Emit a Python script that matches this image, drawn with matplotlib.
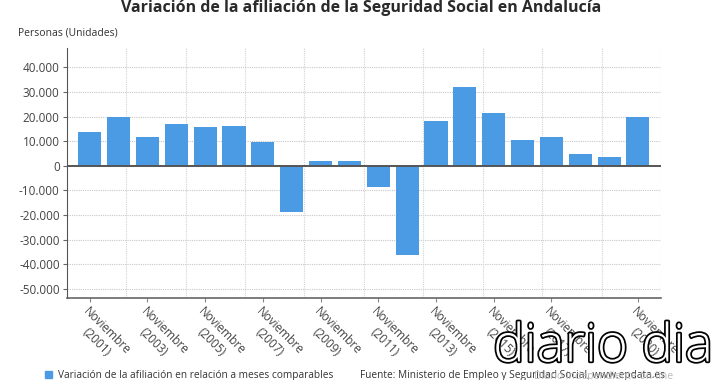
"""
Variación de la afiliación de la Seguridad Social en Andalucía (noviembre, 2001-2020).
"""

import matplotlib
matplotlib.use("Agg")
import matplotlib.pyplot as plt
import matplotlib.patheffects as pe
from matplotlib.patches import Patch
import numpy as np

# --------------------------------------------------
# DATA
# --------------------------------------------------
years = list(range(2001, 2021))
variacion = [13600, 19800, 11500, 17000, 15600, 16200, 9600, -18900, 2000, 1900,
             -8800, -36300, 18200, 32100, 21300, 10400, 11600, 4900, 3500, 19800]
label_years = [2001, 2003, 2005, 2007, 2009, 2011, 2013, 2015, 2017, 2020]
y_ticks = [40000, 30000, 20000, 10000, 0, -10000, -20000, -30000, -40000, -50000]

TITLE = "Variación de la afiliación de la Seguridad Social en Andalucía"
Y_UNIT = "Personas (Unidades)"
SERIES = "Variación de la afiliación en relación a meses comparables"
SOURCE = "Fuente: Ministerio de Empleo y Seguridad Social, www.epdata.es"
LOGO = "diario dia"
LOGO_SUB = "Diario independiente on-line"

BAR_COLOR = "#4a9be3"
TEXT_COLOR = "#444444"

plt.rcParams["font.family"] = ["Open Sans", "DejaVu Sans"]


def fmt(v):
    return f"{v:,.0f}".replace(",", ".")


fig = plt.figure(figsize=(7.2, 3.8), dpi=100)
ax = fig.add_axes([0.0926, 0.215, 0.8255, 0.661])

x = np.arange(len(years))
ax.bar(x, variacion, width=0.8, color=BAR_COLOR, zorder=3)

ax.set_xlim(-0.8, len(years) - 0.2)
ax.set_ylim(-53800, 48200)

# horizontal grid at the y ticks, vertical grid dividing the width in 10
ax.set_yticks(y_ticks)
ax.set_yticklabels([fmt(v) for v in y_ticks])
for v in y_ticks:
    if v != 0:
        ax.axhline(v, color="#c8c8c8", lw=0.8, ls=(0, (1, 1)), zorder=1)
x0, x1 = ax.get_xlim()
for k in range(1, 11):
    ax.axvline(x0 + (x1 - x0) * k / 10, color="#d3d3d3", lw=0.8, ls=(0, (1, 1)), zorder=1)
ax.axhline(0, color="#555555", lw=1.4, zorder=4)

# x tick labels
tick_pos = [years.index(y) for y in label_years]
ax.set_xticks(tick_pos)
ax.set_xticklabels([f"Noviembre\n({y})" for y in label_years],
                   rotation=-45, ha="left", va="top", rotation_mode="anchor",
                   multialignment="center", fontsize=8.5, color=TEXT_COLOR)
ax.tick_params(axis="x", length=3, color="#888888", pad=2)
ax.tick_params(axis="y", length=3, color="#666666", labelsize=8.5,
               labelcolor=TEXT_COLOR, pad=2)

for side in ["top", "right"]:
    ax.spines[side].set_visible(False)
ax.spines["left"].set_linestyle((0, (1, 1)))
ax.spines["left"].set_color("#555555")
ax.spines["bottom"].set_color("#666666")
ax.spines["bottom"].set_linewidth(1.2)

# titles
fig.text(0.502, 0.979, TITLE, ha="center", va="center", fontsize=11.5,
         fontweight="bold", color="#2a2a2a")
fig.text(0.025, 0.912, Y_UNIT, ha="left", va="center", fontsize=7.5, color="#333333")

# legend and source
fig.legend([Patch(color=BAR_COLOR)], [SERIES], loc="center left",
           bbox_to_anchor=(0.063, 0.011), frameon=False, fontsize=7.3,
           handlelength=0.7, handleheight=0.7, handletextpad=0.5, borderpad=0,
           borderaxespad=0, labelcolor="#333333")
fig.text(0.5, 0.011, SOURCE, ha="left", va="center", fontsize=7.3, color="#333333")

# watermark
fig.text(0.935, 0.008, LOGO_SUB, ha="right", va="center", fontsize=7.5,
         color="#bbbbbb", zorder=5)
fig.text(0.685, 0.085, LOGO, ha="left", va="center", fontsize=38,
         color="white", fontweight="light", zorder=6,
         path_effects=[pe.withStroke(linewidth=2.5, foreground="black")])

fig.savefig("out.png", dpi=100)
